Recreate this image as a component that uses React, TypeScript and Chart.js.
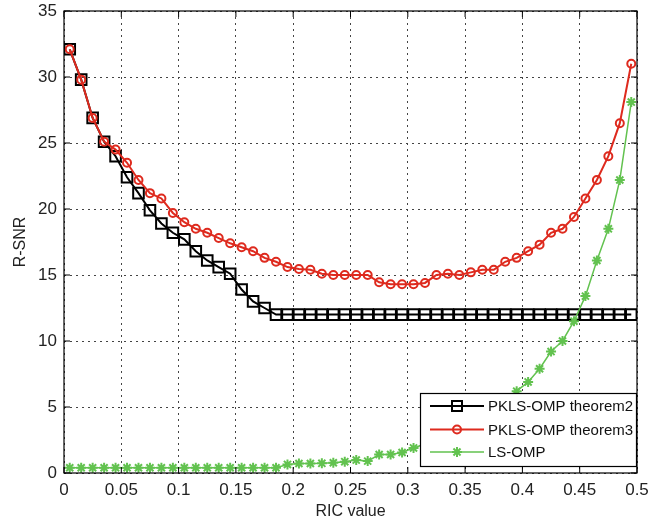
import React, { useEffect, useRef } from 'react';
import { Chart, registerables } from 'chart.js';

Chart.register(...registerables);

const ricValues = [
  0.005, 0.015, 0.025, 0.035, 0.045, 0.055, 0.065, 0.075, 0.085, 0.095,
  0.105, 0.115, 0.125, 0.135, 0.145, 0.155, 0.165, 0.175, 0.185, 0.195,
  0.205, 0.215, 0.225, 0.235, 0.245, 0.255, 0.265, 0.275, 0.285, 0.295,
  0.305, 0.315, 0.325, 0.335, 0.345, 0.355, 0.365, 0.375, 0.385, 0.395,
  0.405, 0.415, 0.425, 0.435, 0.445, 0.455, 0.465, 0.475, 0.485, 0.495,
];

const pklsTheorem2 = [
  32.1, 29.8, 26.9, 25.1, 24.0, 22.4, 21.2, 19.9, 18.9, 18.2,
  17.7, 16.8, 16.1, 15.6, 15.1, 13.9, 13.0, 12.5, 12.0, 12.0,
  12.0, 12.0, 12.0, 12.0, 12.0, 12.0, 12.0, 12.0, 12.0, 12.0,
  12.0, 12.0, 12.0, 12.0, 12.0, 12.0, 12.0, 12.0, 12.0, 12.0,
  12.0, 12.0, 12.0, 12.0, 12.0, 12.0, 12.0, 12.0, 12.0, 12.0,
];

const pklsTheorem3 = [
  32.1, 29.8, 26.9, 25.1, 24.5, 23.5, 22.2, 21.2, 20.8, 19.7,
  19.0, 18.5, 18.2, 17.8, 17.4, 17.1, 16.8, 16.3, 16.0, 15.6,
  15.45, 15.4, 15.1, 15.0, 15.0, 15.0, 15.0, 14.45, 14.3, 14.3,
  14.3, 14.4, 15.0, 15.1, 15.0, 15.2, 15.4, 15.4, 16.0, 16.3,
  16.8, 17.3, 18.2, 18.5, 19.4, 20.8, 22.2, 24.0, 26.5, 31.0,
];

const lsOmp = [
  0.4, 0.4, 0.4, 0.4, 0.4, 0.4, 0.4, 0.4, 0.4, 0.4,
  0.4, 0.4, 0.4, 0.4, 0.4, 0.4, 0.4, 0.4, 0.4, 0.65,
  0.72, 0.72, 0.73, 0.78, 0.86, 0.98, 0.9, 1.4, 1.4, 1.55,
  1.9, 2.2, 2.6, 3.0, 3.4, 3.9, 4.4, 5.0, 5.6, 6.2,
  6.9, 7.9, 9.2, 10.0, 11.5, 13.4, 16.1, 18.5, 22.2, 28.1,
];

const seriesLabels = ['PKLS-OMP theorem2', 'PKLS-OMP theorem3', 'LS-OMP'];
const xTickValues = [0, 0.05, 0.1, 0.15, 0.2, 0.25, 0.3, 0.35, 0.4, 0.45, 0.5];
const xTickLabels = ['0', '0.05', '0.1', '0.15', '0.2', '0.25', '0.3', '0.35', '0.4', '0.45', '0.5'];
const yTickValues = [0, 5, 10, 15, 20, 25, 30, 35];
const yTickLabels = ['0', '5', '10', '15', '20', '25', '30', '35'];

const BLACK = '#000000';
const RED = '#de2a1e';
const GREEN = '#62c24f';
const FONT = '"Liberation Sans", Arial, Helvetica, sans-serif';

const toPoints = (ys: number[]) => ys.map((y, i) => ({ x: ricValues[i], y }));

const zeroPadding = (scale: any) => {
  scale.paddingTop = 0;
  scale.paddingBottom = 0;
  scale.paddingLeft = 0;
  scale.paddingRight = 0;
};

const frameAndLegend = {
  id: 'frameAndLegend',
  afterDraw(chart: any) {
    const { ctx, chartArea, scales } = chart;
    const { left, right, top, bottom } = chartArea;
    ctx.save();
    ctx.strokeStyle = '#000';
    ctx.lineWidth = 1.2;
    ctx.strokeRect(left, top, right - left, bottom - top);
    const tl = 6;
    ctx.lineWidth = 1;
    ctx.beginPath();
    for (const v of xTickValues) {
      const px = scales.x.getPixelForValue(v);
      ctx.moveTo(px, bottom); ctx.lineTo(px, bottom - tl);
      ctx.moveTo(px, top); ctx.lineTo(px, top + tl);
    }
    for (const v of yTickValues) {
      const py = scales.y.getPixelForValue(v);
      ctx.moveTo(left, py); ctx.lineTo(left + tl, py);
      ctx.moveTo(right, py); ctx.lineTo(right - tl, py);
    }
    ctx.stroke();

    // legend
    const w = 217, h = 74;
    const x0 = right - w;
    const y0 = bottom - 6 - h;
    ctx.fillStyle = '#fff';
    ctx.fillRect(x0, y0, w, h);
    ctx.strokeStyle = '#000';
    ctx.lineWidth = 1.2;
    ctx.strokeRect(x0 + 0.5, y0 + 0.5, w - 1, h - 1);
    const rows = [13, 36.5, 59];
    const colors = [BLACK, RED, GREEN];
    const widths = [2, 2, 1.5];
    ctx.font = `15px ${FONT}`;
    ctx.textBaseline = 'middle';
    rows.forEach((ry, i) => {
      const y = y0 + ry;
      const mx = x0 + 37;
      ctx.strokeStyle = colors[i];
      ctx.lineWidth = widths[i];
      ctx.beginPath();
      ctx.moveTo(x0 + 10, y); ctx.lineTo(x0 + 64, y);
      ctx.stroke();
      ctx.lineWidth = 2;
      ctx.beginPath();
      if (i === 0) {
        ctx.rect(mx - 5, y - 5, 10, 10);
      } else if (i === 1) {
        ctx.arc(mx, y, 4, 0, Math.PI * 2);
      } else {
        const r = 5;
        ctx.moveTo(mx - r, y); ctx.lineTo(mx + r, y);
        ctx.moveTo(mx, y - r); ctx.lineTo(mx, y + r);
        const d = r * Math.SQRT1_2;
        ctx.moveTo(mx - d, y - d); ctx.lineTo(mx + d, y + d);
        ctx.moveTo(mx - d, y + d); ctx.lineTo(mx + d, y - d);
      }
      ctx.stroke();
      ctx.fillStyle = '#111';
      ctx.fillText(seriesLabels[i], x0 + 68, y + 1);
    });
    ctx.restore();
  },
};

export default function App() {
  const canvasRef = useRef<HTMLCanvasElement | null>(null);

  useEffect(() => {
    const canvas = canvasRef.current;
    if (!canvas) return;
    const chart = new Chart(canvas, {
      type: 'line',
      data: {
        datasets: [
          {
            label: seriesLabels[0],
            data: toPoints(pklsTheorem2),
            borderColor: BLACK,
            borderWidth: 2,
            pointStyle: 'rect',
            pointRadius: 7.5,
            pointBorderWidth: 2,
            pointBorderColor: BLACK,
            pointBackgroundColor: 'rgba(0,0,0,0)',
            fill: false,
            tension: 0,
            order: 3,
          },
          {
            label: seriesLabels[1],
            data: toPoints(pklsTheorem3),
            borderColor: RED,
            borderWidth: 2,
            pointStyle: 'circle',
            pointRadius: 4,
            pointBorderWidth: 2,
            pointBorderColor: RED,
            pointBackgroundColor: 'rgba(0,0,0,0)',
            fill: false,
            tension: 0,
            order: 2,
          },
          {
            label: seriesLabels[2],
            data: toPoints(lsOmp),
            borderColor: GREEN,
            borderWidth: 1.5,
            pointStyle: 'star',
            pointRadius: 5,
            pointBorderWidth: 2,
            pointBorderColor: GREEN,
            pointBackgroundColor: GREEN,
            fill: false,
            tension: 0,
            order: 1,
          },
        ],
      },
      options: {
        animation: false,
        responsive: false,
        devicePixelRatio: 1,
        layout: { padding: { left: 0, top: 11, right: 12, bottom: 0 } },
        plugins: {
          legend: { display: false },
          tooltip: { enabled: false },
          title: { display: false },
        },
        scales: {
          x: {
            type: 'linear',
            min: 0,
            max: 0.5,
            afterBuildTicks: (scale: any) => {
              scale.ticks = xTickValues.map((v) => ({ value: v }));
            },
            afterFit: (scale: any) => {
              scale.height = 51;
              zeroPadding(scale);
            },
            ticks: {
              autoSkip: false,
              maxRotation: 0,
              padding: 7,
              color: '#222',
              font: { family: FONT, size: 17 },
              callback: (_v: any, i: number) => xTickLabels[i],
            },
            grid: { color: '#444', lineWidth: 1, drawTicks: false },
            border: { display: false, dash: [2, 4] },
            title: {
              display: true,
              text: 'RIC value',
              color: '#222',
              font: { family: FONT, size: 16 },
              padding: { top: 3, bottom: 3 },
            },
          },
          y: {
            type: 'linear',
            min: 0,
            max: 35,
            afterBuildTicks: (scale: any) => {
              scale.ticks = yTickValues.map((v) => ({ value: v }));
            },
            afterFit: (scale: any) => {
              scale.width = 64;
              zeroPadding(scale);
            },
            ticks: {
              autoSkip: false,
              padding: 7,
              color: '#222',
              font: { family: FONT, size: 17 },
              callback: (_v: any, i: number) => yTickLabels[i],
            },
            grid: { color: '#444', lineWidth: 1, drawTicks: false },
            border: { display: false, dash: [2, 4] },
            title: {
              display: true,
              text: 'R-SNR',
              color: '#222',
              font: { family: FONT, size: 16 },
              padding: { top: 11, bottom: 11 },
            },
          },
        },
      },
      plugins: [frameAndLegend],
    });
    return () => chart.destroy();
  }, []);

  return (
    <div style={{ position: 'fixed', left: 0, top: 0, width: 649, height: 524, background: '#fff' }}>
      <canvas ref={canvasRef} width={649} height={524} style={{ display: 'block', width: 649, height: 524 }} />
    </div>
  );
}
